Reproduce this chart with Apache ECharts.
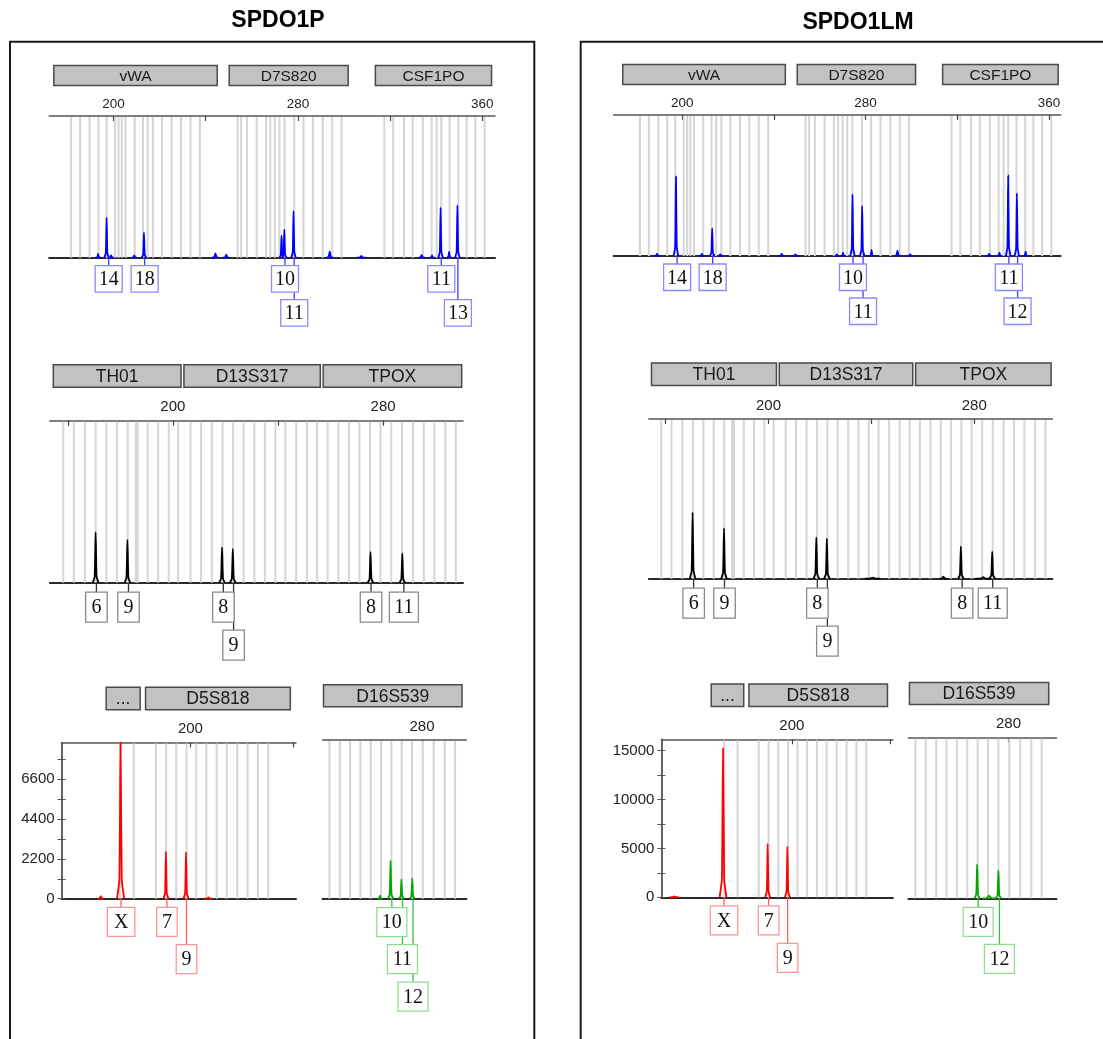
<!DOCTYPE html>
<html>
<head>
<meta charset="utf-8">
<script src="https://cdn.jsdelivr.net/npm/echarts@6/dist/echarts.min.js"></script>
<style>
  html, body { margin: 0; padding: 0; background: #fff; }
  #chart { width: 1103px; height: 1039px; }
</style>
</head>
<body>
<div id="chart"></div>
<script>
// size axis ticks (bp)
const blueTicks = [200, 240, 280, 320, 360];
const blueTickLabels = [200, 280, 360];
const blackTicks = [160, 200, 240, 280];
const blackTickLabels = [200, 280];
const redTicks = [200, 240];
const redTickLabels = [200];
const greenTicks = [280];
const greenTickLabels = [280];
// RFU axis ticks of the red panels
const pRedYTicks = [0, 1100, 2200, 3300, 4400, 5500, 6600, 7700];
const pRedYLabels = [0, 2200, 4400, 6600];
const lmRedYTicks = [0, 2500, 5000, 7500, 10000, 12500, 15000];
const lmRedYLabels = [0, 5000, 10000, 15000];

// loci: [name, start bp, end bp]
const blueLoci = [['vWA', 174.1, 245.0], ['D7S820', 250.2, 301.8], ['CSF1PO', 313.6, 364.0]];
const blackLoci = [['TH01', 154.5, 203.1], ['D13S317', 204.2, 256.1], ['TPOX', 257.2, 309.9]];
const redLoci = [['...', 167.3, 180.5], ['D5S818', 182.6, 238.8]];
const greenLoci = [['D16S539', 241.8, 295.5]];

// allele bins (bp)
const blueBins = [181.6, 185.5, 189.6, 193.5, 197.0, 200.7, 202.2, 203.6, 205.2, 209.2, 212.8, 214.8, 217.1, 221.0, 225.2, 229.3, 233.4, 237.5,
  253.8, 255.4, 257.9, 262.1, 266.2, 268.0, 270.0, 272.0, 274.2, 278.4, 282.4, 286.5, 290.8, 294.9, 298.9,
  317.5, 321.3, 326.0, 329.8, 334.2, 338.0, 340.2, 342.2, 345.8, 349.6, 353.2, 357.0, 361.0];
const blackBins = [158.3, 162.3, 166.5, 170.6, 174.7, 178.7, 182.8, 185.9, 186.6, 190.4, 194.4, 198.4, 202.0,
  206.7, 210.7, 214.8, 218.9, 222.9, 226.9, 231.0, 235.0, 239.0, 242.8, 246.9, 251.0, 254.9,
  258.9, 263.0, 267.0, 271.0, 275.0, 279.0, 283.1, 287.2, 291.4, 295.5, 299.5, 303.7, 307.7];
const redBins = [172.6, 178.0, 186.6, 190.6, 194.5, 198.5, 202.3, 206.2, 210.2, 214.1, 218.2, 222.2, 226.2, 230.2];
const greenBins = [244.1, 248.1, 252.1, 256.1, 260.1, 264.1, 268.1, 272.1, 276.1, 280.3, 284.5, 288.8, 292.8];

// peaks: [size bp, height RFU, base half-width bp (optional)]
const pBluePeaks = [[193.3, 37, 1.2], [197.0, 400], [199.0, 23, 1.2], [209.0, 23, 1.2], [213.2, 250], [244.2, 43, 1.5], [248.9, 30, 1.5],
  [272.9, 220], [274.1, 280], [278.1, 467], [293.8, 63, 1.5], [307.5, 17, 2], [333.7, 27, 1.5], [338.2, 23],
  [341.9, 500], [345.6, 60], [349.2, 523]];
const lmBluePeaks = [[189.0, 20, 1.5], [197.3, 793], [208.6, 20, 1.2], [213.1, 277], [216.6, 17, 1.2], [243.4, 20, 1.5], [249.4, 17, 1.5],
  [267.5, 17], [270.2, 33], [274.3, 617], [278.5, 500], [282.6, 60], [293.9, 53, 1.5], [299.5, 17, 1.5],
  [333.9, 20, 1.5], [338.4, 33], [342.2, 803], [346.0, 627], [349.8, 43]];
const pBlackPeaks = [[170.6, 503], [182.7, 427], [218.7, 353], [222.8, 337], [275.2, 307], [287.3, 293]];
const lmBlackPeaks = [[170.5, 660], [182.7, 503], [218.6, 413], [222.7, 400], [240.5, 10, 3], [268.0, 20, 1.5],
  [274.8, 323], [283.5, 15, 3], [287.0, 270]];
const pRedPeaks = [[165.2, 147, 1.2], [172.9, 8635, 1.4], [190.5, 2598], [198.3, 2580], [207.0, 70, 1.5]];
const lmRedPeaks = [[152.3, 100, 2], [172.1, 15243, 1.4], [190.2, 5456], [198.2, 5183]];
const pGreenPeaks = [[263.7, 166], [267.8, 2100], [272.0, 1069], [276.2, 1124]];
const lmGreenPeaks = [[267.9, 3478], [272.5, 270, 2.5], [276.1, 2830]];

// allele calls: [size bp, label, row]
const pBlueAlleles = [[197.9, '14', 0], [213.5, '18', 0], [274.4, '10', 0], [278.4, '11', 1], [342.2, '11', 0], [349.4, '13', 1]];
const lmBlueAlleles = [[197.8, '14', 0], [213.3, '18', 0], [274.5, '10', 0], [278.9, '11', 1], [342.5, '11', 0], [346.3, '12', 1]];
const pBlackAlleles = [[170.9, '6', 0], [183.1, '9', 0], [219.2, '8', 0], [223.1, '9', 1], [275.4, '8', 0], [287.9, '11', 0]];
const lmBlackAlleles = [[170.9, '6', 0], [182.9, '9', 0], [219.0, '8', 0], [222.9, '9', 1], [275.3, '8', 0], [287.2, '11', 0]];
const pRedAlleles = [[173.1, 'X', 0], [190.9, '7', 0], [198.5, '9', 1]];
const lmRedAlleles = [[172.5, 'X', 0], [190.6, '7', 0], [198.3, '9', 1]];
const pGreenAlleles = [[268.3, '10', 0], [272.4, '11', 1], [276.5, '12', 2]];
const lmGreenAlleles = [[268.3, '10', 0], [276.5, '12', 1]];

const dyeStyle = {
  blue:  { trace: '#0000ff', box: '#8a8aff', line: '#3c3cff', rows: [8, 42], boxH: 26.5, w1: 22, w2: 27, headOff: 50.5, headH: 20, headFont: 15.5, tickFont: 13.5, tickMargin: 5, peakW: 1.0 },
  black: { trace: '#000000', box: '#8a8a8a', line: '#333333', rows: [9.5, 47.5], boxH: 30, w1: 21.5, w2: 29, headOff: 56, headH: 22.5, headFont: 17.5, tickFont: 15, tickMargin: 6, peakW: 1.1 },
  red:   { trace: '#ff0000', box: '#ff9494', line: '#ff5c5c', rows: [8.6, 46], boxH: 29, w1: 20.6, w2: 27.5, headOff: 55.3, headH: 22.5, headFont: 17.5, tickFont: 15, tickMargin: 6, peakW: 1.0 },
  green: { trace: '#00a800', box: '#92dc92', line: '#3cbc3c', rows: [9, 46, 83.5], boxH: 29, w1: 21, w2: 30, headOff: 55.2, headH: 22, headFont: 17.5, tickFont: 15, tickMargin: 6, peakW: 1.0 }
};

const rows = [
  { dye: 'blue',  left: 49.2,  top: 116,   width: 445.8, height: 141.7, xMin: 172.1, xMax: 365.5, yMax: 1417,  ticks: blueTicks,  tickLabels: blueTickLabels,  loci: blueLoci,  bins: blueBins,  peaks: pBluePeaks,  alleles: pBlueAlleles },
  { dye: 'black', left: 49.9,  top: 420.7, width: 413.1, height: 162,   xMin: 153.2, xMax: 310.4, yMax: 1620,  ticks: blackTicks, tickLabels: blackTickLabels, loci: blackLoci, bins: blackBins, peaks: pBlackPeaks, alleles: pBlackAlleles },
  { dye: 'red',   left: 61.6,  top: 742.5, width: 234.4, height: 156.2, xMin: 150,   xMax: 241,   yMax: 8635,  ticks: redTicks,   tickLabels: redTickLabels,   loci: redLoci,   bins: redBins,   peaks: pRedPeaks,   alleles: pRedAlleles, yTicks: pRedYTicks, yLabels: pRedYLabels },
  { dye: 'green', left: 322.5, top: 740,   width: 143.9, height: 158.7, xMin: 241.4, xMax: 297.2, yMax: 8773,  ticks: greenTicks, tickLabels: greenTickLabels, loci: greenLoci, bins: greenBins, peaks: pGreenPeaks, alleles: pGreenAlleles },
  { dye: 'blue',  left: 613.6, top: 115,   width: 447.1, height: 141,   xMin: 170.1, xMax: 365.1, yMax: 1410,  ticks: blueTicks,  tickLabels: blueTickLabels,  loci: blueLoci,  bins: blueBins,  peaks: lmBluePeaks,  alleles: lmBlueAlleles },
  { dye: 'black', left: 648.9, top: 419,   width: 403.5, height: 159.7, xMin: 153.5, xMax: 310.4, yMax: 1597,  ticks: blackTicks, tickLabels: blackTickLabels, loci: blackLoci, bins: blackBins, peaks: lmBlackPeaks, alleles: lmBlackAlleles },
  { dye: 'red',   left: 661.4, top: 739.3, width: 231.5, height: 158,   xMin: 147.1, xMax: 241,   yMax: 16170, ticks: redTicks,   tickLabels: redTickLabels,   loci: redLoci,   bins: redBins,   peaks: lmRedPeaks,   alleles: lmRedAlleles, yTicks: lmRedYTicks, yLabels: lmRedYLabels },
  { dye: 'green', left: 908.4, top: 737.7, width: 148.1, height: 160.6, xMin: 241.4, xMax: 298.5, yMax: 16430, ticks: greenTicks, tickLabels: greenTickLabels, loci: greenLoci, bins: greenBins, peaks: lmGreenPeaks, alleles: lmGreenAlleles }
];

const SANS = '"Liberation Sans", Arial, sans-serif';
const SERIF = '"Liberation Serif", "Times New Roman", serif';

const grids = [], xAxes = [], yAxes = [], series = [];

rows.forEach((r, i) => {
  const st = dyeStyle[r.dye];
  const hasY = !!r.yTicks;
  grids.push({ left: r.left, top: r.top, width: r.width, height: r.height });
  xAxes.push({
    gridIndex: i, type: 'value', position: 'top', min: r.xMin, max: r.xMax,
    axisLine: { show: true, onZero: false, lineStyle: { color: '#555', width: 1.5 } },
    axisTick: { show: true, inside: true, length: 5, customValues: r.ticks, lineStyle: { color: '#444', width: 1.2 } },
    axisLabel: { show: true, customValues: r.tickLabels, margin: st.tickMargin, fontSize: st.tickFont, fontFamily: SANS, color: '#222' },
    splitLine: { show: false }
  }, {
    gridIndex: i, type: 'value', position: 'bottom', min: r.xMin, max: r.xMax,
    axisLine: { show: true, onZero: false, lineStyle: { color: '#2a2a2a', width: 2 } },
    axisTick: { show: false }, axisLabel: { show: false }, splitLine: { show: false }
  });
  const yIndex = yAxes.length;
  yAxes.push({
    gridIndex: i, type: 'value', position: 'left', min: 0, max: r.yMax, show: hasY,
    axisLine: { show: hasY, onZero: false, lineStyle: { color: '#333', width: 1.5 } },
    axisTick: { show: hasY, length: 4, customValues: r.yTicks, lineStyle: { color: '#555' } },
    axisLabel: { show: hasY, customValues: r.yLabels, margin: 7, fontSize: 15, fontFamily: SANS, color: '#222', formatter: v => String(v) },
    splitLine: { show: false }
  });
  if (hasY) {
    // inner half of the crossing ticks
    yAxes.push({
      gridIndex: i, type: 'value', position: 'left', min: 0, max: r.yMax,
      axisLine: { show: false, onZero: false },
      axisTick: { show: true, inside: true, length: 4, customValues: r.yTicks, lineStyle: { color: '#555' } },
      axisLabel: { show: false }, splitLine: { show: false }
    });
  }
  const base = { type: 'custom', coordinateSystem: 'cartesian2d', xAxisIndex: 2 * i, yAxisIndex: yIndex, silent: true, animation: false };

  // bins
  series.push(Object.assign({}, base, {
    z: 1,
    data: r.bins.map(b => [b, 0]),
    renderItem: (params, api) => {
      const cs = params.coordSys;
      const x = api.coord([api.value(0), 0])[0];
      return { type: 'line', shape: { x1: x, y1: cs.y + 1, x2: x, y2: cs.y + cs.height }, style: { stroke: '#d5d5d5', lineWidth: 2 } };
    }
  }));

  // peaks
  series.push(Object.assign({}, base, {
    z: 3,
    data: r.peaks.map(q => [q[0], q[1], q[2] || st.peakW]),
    renderItem: (params, api) => {
      const p = api.value(0), h = api.value(1), w = api.value(2);
      const pts = [
        api.coord([p - w, 0]), api.coord([p - w / 3, h * 0.12]), api.coord([p, h]),
        api.coord([p + w / 3, h * 0.12]), api.coord([p + w, 0])
      ];
      return { type: 'polyline', shape: { points: pts, smooth: 0.15 }, style: { stroke: st.trace, lineWidth: 1.8, fill: null } };
    }
  }));

  // allele connector lines
  series.push(Object.assign({}, base, {
    z: 4,
    data: r.alleles.map(a => [a[0], a[2]]),
    renderItem: (params, api) => {
      const cs = params.coordSys;
      const x = api.coord([api.value(0), 0])[0];
      const y0 = cs.y + cs.height;
      const y1 = y0 + st.rows[api.value(1)];
      return { type: 'line', shape: { x1: x, y1: y0, x2: x, y2: y1 }, style: { stroke: st.line, lineWidth: 1.3 } };
    }
  }));

  // allele boxes
  series.push(Object.assign({}, base, {
    z: 5,
    data: r.alleles.map(a => [a[0], a[2]]),
    renderItem: (params, api) => {
      const cs = params.coordSys;
      const label = r.alleles[params.dataIndex][1];
      const x = api.coord([api.value(0), 0])[0];
      const top = cs.y + cs.height + st.rows[api.value(1)];
      const w = label === 'X' ? 27.5 : (label.length > 1 ? st.w2 : st.w1);
      return {
        type: 'group',
        children: [
          { type: 'rect', shape: { x: x - w / 2, y: top, width: w, height: st.boxH }, style: { fill: '#fff', stroke: st.box, lineWidth: 1.3 } },
          { type: 'text', style: { text: label, x: x, y: top + st.boxH / 2 + 1, align: 'center', verticalAlign: 'middle', font: '20px ' + SERIF, fill: '#111' } }
        ]
      };
    }
  }));

  // locus headers
  series.push(Object.assign({}, base, {
    z: 5,
    data: r.loci.map(l => [l[1], l[2]]),
    renderItem: (params, api) => {
      const cs = params.coordSys;
      const name = r.loci[params.dataIndex][0];
      const x1 = api.coord([api.value(0), 0])[0];
      const x2 = api.coord([api.value(1), 0])[0];
      const y = cs.y - st.headOff;
      return {
        type: 'group',
        children: [
          { type: 'rect', shape: { x: x1, y: y, width: x2 - x1, height: st.headH }, style: { fill: '#c2c2c2', stroke: '#4a4a4a', lineWidth: 1.5 } },
          { type: 'text', style: { text: name, x: (x1 + x2) / 2, y: y + st.headH / 2 + 1, align: 'center', verticalAlign: 'middle', font: st.headFont + 'px ' + SANS, fill: '#1a1a1a' } }
        ]
      };
    }
  }));
});

const chart = echarts.init(document.getElementById('chart'), null, { renderer: 'canvas' });
chart.setOption({
  animation: false,
  backgroundColor: '#fff',
  grid: grids,
  xAxis: xAxes,
  yAxis: yAxes,
  series: series,
  graphic: [
    { type: 'polyline', shape: { points: [[10, 1050], [10, 41.7], [534.3, 41.7], [534.3, 1050]] }, style: { stroke: '#1a1a1a', lineWidth: 2, fill: null } },
    { type: 'polyline', shape: { points: [[580.7, 1050], [580.7, 41.7], [1110, 41.7]] }, style: { stroke: '#1a1a1a', lineWidth: 2, fill: null } },
    { type: 'text', style: { text: 'SPDO1P', x: 278, y: 21, align: 'center', verticalAlign: 'middle', font: 'bold 23px ' + SANS, fill: '#000' } },
    { type: 'text', style: { text: 'SPDO1LM', x: 858, y: 23, align: 'center', verticalAlign: 'middle', font: 'bold 23px ' + SANS, fill: '#000' } }
  ]
});
</script>
</body>
</html>
